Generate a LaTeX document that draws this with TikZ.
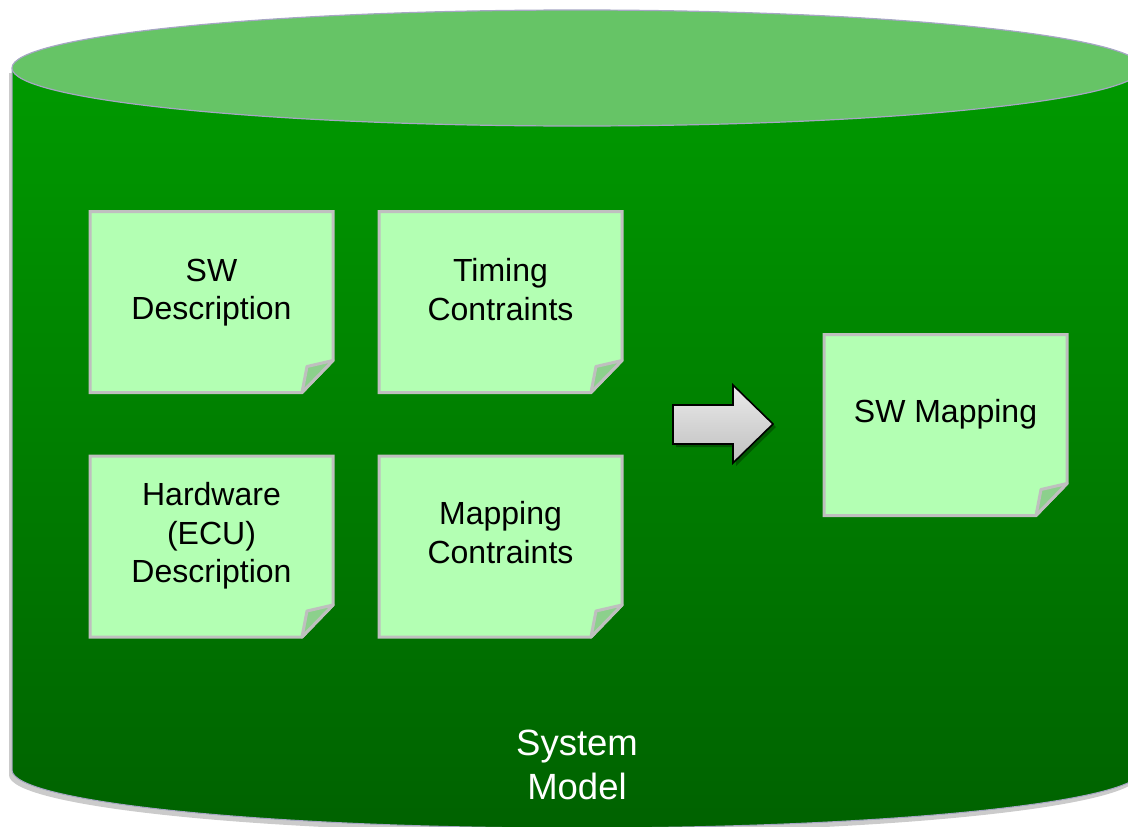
\documentclass[tikz,border=0pt]{standalone}
\usepackage{fontspec}
\setmainfont{Liberation Sans}
\pgfdeclarelayer{back}
\pgfdeclarelayer{mid}
\pgfsetlayers{back,mid,main}
\definecolor{cyltop}{RGB}{0,154,0}
\definecolor{cylbot}{RGB}{0,98,0}
\definecolor{cylface}{RGB}{102,196,102}
\definecolor{cylline}{RGB}{166,166,196}
\definecolor{notefill}{RGB}{179,255,179}
\definecolor{noteline}{RGB}{191,191,191}
\definecolor{foldfill}{RGB}{140,208,140}
\tikzset{
  notebox/.style={minimum width=243pt,minimum height=181pt,inner sep=0pt,outer sep=0pt},
  notetext/.style={align=center,font=\fontsize{32}{38.5}\selectfont,text=black,inner sep=0pt,
    execute at begin node=\strut,execute at end node=\strut},
  notepaper/.style={fill=notefill,draw=noteline,line width=3pt,line join=miter},
  notefold/.style={fill=foldfill,draw=noteline,line width=3pt,line join=round},
  systext/.style={align=center,font=\fontsize{36.5}{44}\selectfont,text=white,inner sep=0pt},
  blockarrow/.style={top color=black!8,bottom color=black!25,draw=black,line width=1.6pt,line join=miter},
}
\newcommand\drawnote[1]{%
  \path[notepaper] (#1.north west) -- (#1.north east) -- ([yshift=32pt]#1.south east)
     -- ([xshift=-31pt]#1.south east) -- (#1.south west) -- cycle;
  \path[notefold] ([yshift=32pt]#1.south east) -- ([xshift=-26pt,yshift=26pt]#1.south east)
     -- ([xshift=-31pt]#1.south east) -- cycle;}
\begin{document}
\begin{tikzpicture}[x=1pt,y=-1pt]
\useasboundingbox (0,0) rectangle (1128,827);
\begin{pgfonlayer}{back}
  \clip (0,0) rectangle (1128,827);
  \begin{scope}[shift={(-3,5)}]
    \fill[black!45,opacity=0.45] (12,68) -- (12,770) arc[start angle=180,end angle=0,x radius=565,y radius=58] -- (1142,68) -- cycle;
  \end{scope}
  \path[top color=cyltop,bottom color=cylbot,draw=cylline,line width=1pt]
    (12,68) -- (12,770) arc[start angle=180,end angle=0,x radius=565,y radius=58] -- (1142,68) -- cycle;
  \path[fill=cylface,draw=cylline,line width=1.2pt] (577,68) ellipse[x radius=565,y radius=58];
\end{pgfonlayer}

\node[notebox] (sw) at (211.5,302) {};
\node[notebox] (tc) at (500.5,302) {};
\node[notebox] (hw) at (211.5,546.5) {};
\node[notebox] (mc) at (500.5,546.5) {};
\node[notebox] (map) at (945.5,425) {};

\begin{pgfonlayer}{mid}
  \drawnote{sw}
  \drawnote{tc}
  \drawnote{hw}
  \drawnote{mc}
  \drawnote{map}
  \fill[black,opacity=0.3] (676,408) -- (736,408) -- (736,388) -- (776,427) -- (736,466) -- (736,447) -- (676,447) -- cycle;
  \path[blockarrow] (673,405) -- (733,405) -- (733,385) -- (773,424) -- (733,463) -- (733,444) -- (673,444) -- cycle;
\end{pgfonlayer}

\node[notetext] (swt) at ([yshift=7pt]sw.center) {SW\\Description};
\node[notetext] (tct) at ([yshift=7pt]tc.center) {Timing\\Contraints};
\node[notetext] (hwt) at ([yshift=8pt]hw.center) {Hardware\\(ECU)\\Description};
\node[notetext] (mct) at ([yshift=8.5pt]mc.center) {Mapping\\Contraints};
\node[notetext] (mapt) at ([yshift=10.5pt]map.center) {SW Mapping};
\node[systext] (sys) at (577,765) {System\\Model};
\end{tikzpicture}
\end{document}
